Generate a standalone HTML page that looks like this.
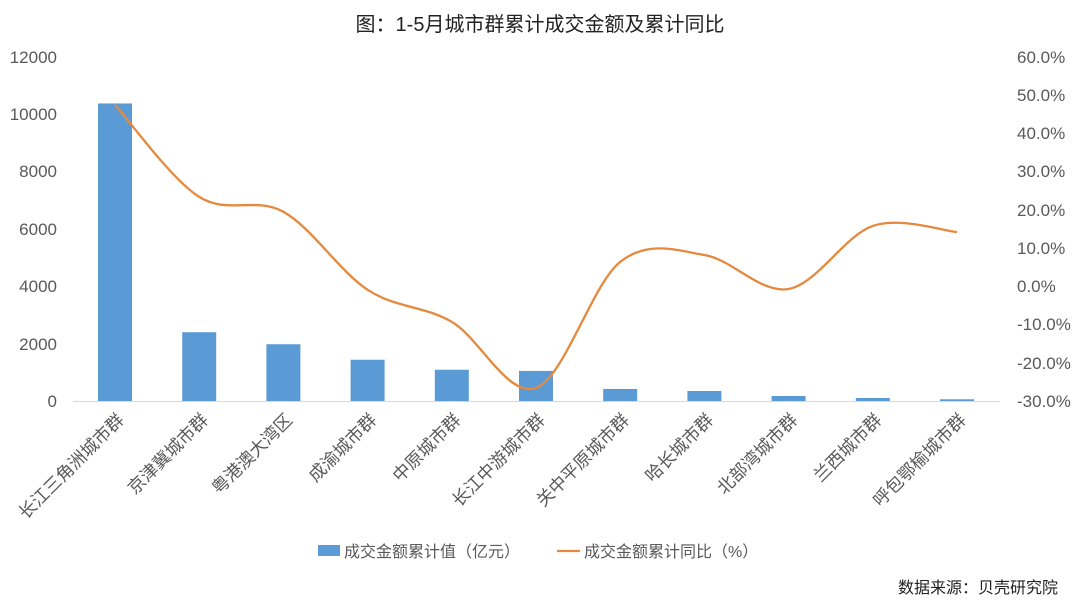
<!DOCTYPE html>
<html><head><meta charset="utf-8"><style>
body{margin:0;background:#fff;}
svg text{font-family:"Liberation Sans","Noto Sans CJK SC",sans-serif;fill:#595959;}
</style></head><body>
<svg id="s" width="1080" height="608" xmlns="http://www.w3.org/2000/svg">
<text x="540" y="31" text-anchor="middle" font-size="20" style="fill:#222">图：1-5月城市群累计成交金额及累计同比</text>
<g font-size="17" text-anchor="end">
<text x="57" y="407">0</text><text x="57" y="350">2000</text><text x="57" y="292">4000</text>
<text x="57" y="235">6000</text><text x="57" y="177">8000</text><text x="57" y="120">10000</text><text x="57" y="63">12000</text>
</g>
<g font-size="17">
<text x="1017" y="63">60.0%</text><text x="1017" y="101">50.0%</text><text x="1017" y="139">40.0%</text>
<text x="1017" y="177">30.0%</text><text x="1017" y="216">20.0%</text><text x="1017" y="254">10.0%</text>
<text x="1017" y="292">0.0%</text><text x="1017" y="330">-10.0%</text><text x="1017" y="369">-20.0%</text>
<text x="1017" y="407">-30.0%</text>
</g>
<line x1="73" y1="401.5" x2="1000" y2="401.5" stroke="#d9d9d9" stroke-width="1"/>
<g id="bars" fill="#5b9bd5"></g>
<path id="ln" fill="none" stroke="#e4893e" stroke-width="2.3"/>
<g id="labs" font-size="17.5"></g>
<rect x="318" y="545" width="22" height="11" fill="#5b9bd5"/>
<text x="344" y="557" font-size="16">成交金额累计值（亿元）</text>
<line x1="557" y1="551" x2="580" y2="551" stroke="#e4893e" stroke-width="2.3"/>
<text x="584" y="557" font-size="16">成交金额累计同比（%）</text>
<text x="1058" y="593" font-size="16" text-anchor="end" style="fill:#222">数据来源：贝壳研究院</text>
</svg>
<script>
var names=["长江三角洲城市群","京津冀城市群","粤港澳大湾区","成渝城市群","中原城市群","长江中游城市群","关中平原城市群","哈长城市群","北部湾城市群","兰西城市群","呼包鄂榆城市群"];
var vals=[10380,2400,1980,1440,1090,1050,420,350,175,105,60];
var pct=[47.5,23.4,19.5,-0.9,-9.3,-26.6,6.4,8.2,-0.7,15.8,14.2];
var ns="http://www.w3.org/2000/svg",b=document.getElementById("bars"),L=document.getElementById("labs");
var pts=[];
for(var i=0;i<11;i++){
 var cx=115+i*84.2,h=vals[i]/2000*57.33;
 var r=document.createElementNS(ns,"rect");r.setAttribute("x",cx-17);r.setAttribute("y",401-h);r.setAttribute("width",34);r.setAttribute("height",h);b.appendChild(r);
 var t=document.createElementNS(ns,"text");t.setAttribute("text-anchor","end");t.setAttribute("transform","translate("+(cx+10)+",421) rotate(-45)");t.textContent=names[i];L.appendChild(t);
 pts.push([cx,401-(pct[i]+30)*3.822]);
}
var d="M"+pts[0][0]+","+pts[0][1];
for(var i=0;i<10;i++){
 var p0=pts[Math.max(0,i-1)],p1=pts[i],p2=pts[i+1],p3=pts[Math.min(10,i+2)];
 var k=1/6;
 d+=" C"+(p1[0]+(p2[0]-p0[0])*k)+","+(p1[1]+(p2[1]-p0[1])*k)+" "+(p2[0]-(p3[0]-p1[0])*k)+","+(p2[1]-(p3[1]-p1[1])*k)+" "+p2[0]+","+p2[1];
}
document.getElementById("ln").setAttribute("d",d);
</script>
</body></html>
